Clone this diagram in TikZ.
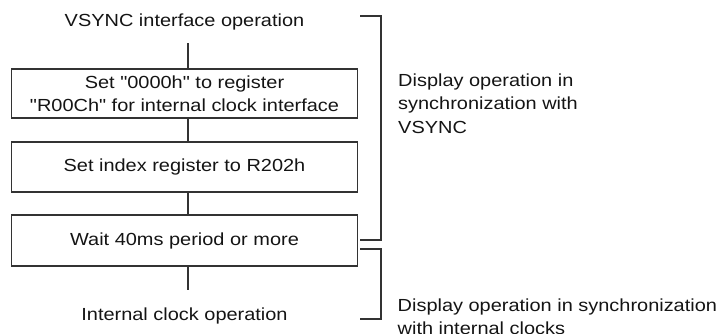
\documentclass[tikz,border=0pt]{standalone}
\usepackage{fontspec}
\newfontfamily\diagfont{Liberation Sans}[FakeStretch=1.14]
\begin{document}
\begin{tikzpicture}[x=1pt,y=-1pt,
  every node/.style={font=\diagfont\fontsize{17.5}{23.5}\selectfont, text=black!92, inner sep=0pt},
  stepbox/.style={draw=black!80, line width=1.6pt, minimum width=346pt, align=center},
  conn/.style={draw=black!80, line width=1.6pt},
  brk/.style={draw=black!80, line width=1.4pt},
  note/.style={anchor=north west, align=left}]
\useasboundingbox (0,0) rectangle (721,333);
% flow
\node[anchor=base] (top) at (184.5,26) {VSYNC interface operation};
\node[stepbox, minimum height=49pt] (b1) at (184.5,93.5) {Set "0000h" to register\\"R00Ch" for internal clock interface};
\node[stepbox, minimum height=50pt] (b2) at (184.5,167) {Set index register to R202h};
\node[stepbox, minimum height=51pt] (b3) at (184.5,240.5) {Wait 40ms period or more};
\node[anchor=base] (bot) at (184.5,320) {Internal clock operation};
\coordinate (t0) at (188,43);
\coordinate (t1) at (188,290);
\draw[conn] (t0) -- (t0 |- b1.north);
\draw[conn] (b1.south -| t0) -- (b2.north -| t0);
\draw[conn] (b2.south -| t0) -- (b3.north -| t0);
\draw[conn] (b3.south -| t0) -- (t1);
% brackets
\coordinate (k1a) at (360,16);
\coordinate (k1b) at (381,16);
\coordinate (k1c) at (381,240);
\coordinate (k1d) at (360,240);
\draw[brk] (k1a) -- (k1b) -- (k1c) -- (k1d);
\coordinate (k2a) at (360,249);
\coordinate (k2b) at (381,249);
\coordinate (k2c) at (381,319);
\coordinate (k2d) at (360,319);
\draw[brk] (k2a) -- (k2b) -- (k2c) -- (k2d);
\node[note] (n1) at (398,73.3) {Display operation in\\synchronization with\\VSYNC};
\node[note] (n2) at (397.5,298.3) {Display operation in synchronization\\with internal clocks};
\end{tikzpicture}
\end{document}
